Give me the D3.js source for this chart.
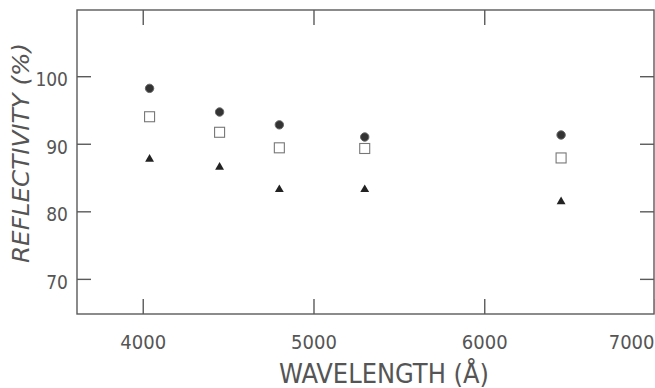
<!DOCTYPE html>
<html>
<head>
<meta charset="utf-8">
<script src="https://cdn.jsdelivr.net/npm/d3@7"></script>
<style>
  html, body { margin: 0; padding: 0; background: #fff; }
  svg { display: block; }
  text { font-family: "DejaVu Sans Condensed", "DejaVu Sans", sans-serif; fill: #555; }
</style>
</head>
<body>
<svg id="chart" width="655" height="388"></svg>
<script>
// Wavelength (Å) of each measurement
const wavelengths = [4040, 4450, 4800, 5300, 6450];
// Reflectivity (%) for the three sample series
const circleValues = [98.2, 94.7, 92.8, 91.0, 91.3];
const squareValues = [94.0, 91.7, 89.4, 89.3, 87.9];
const triangleValues = [87.8, 86.6, 83.3, 83.3, 81.5];
const xTicks = [4000, 5000, 6000, 7000];
const yTicks = [70, 80, 90, 100];

const INK = '#5a5a5a';
const svg = d3.select('#chart');

const x = d3.scaleLinear().domain([3615, 7000]).range([77, 655]);
const y = d3.scaleLinear().domain([64.8, 109.8]).range([314, 10]);

// Frame
svg.append('rect')
  .attr('x', x.range()[0]).attr('y', y.range()[1])
  .attr('width', x.range()[1] - x.range()[0] - 1)
  .attr('height', y.range()[0] - y.range()[1])
  .attr('fill', 'none').attr('stroke', INK).attr('stroke-width', 1.4);

// Inward ticks — bottom with labels, top/left/right bare
const axBottom = svg.append('g').attr('transform', `translate(0,${y.range()[0]})`)
  .call(d3.axisBottom(x).tickValues(xTicks).tickSize(-15).tickPadding(21).tickFormat(d3.format('d')));
const axTop = svg.append('g').attr('transform', `translate(0,${y.range()[1]})`)
  .call(d3.axisTop(x).tickValues(xTicks.filter(d => d < 7000)).tickSize(-15).tickFormat(''));
const axLeft = svg.append('g').attr('transform', `translate(${x.range()[0]},0)`)
  .call(d3.axisLeft(y).tickValues(yTicks).tickSize(-14).tickPadding(9));
const axRight = svg.append('g').attr('transform', `translate(${x.range()[1] - 1},0)`)
  .call(d3.axisRight(y).tickValues(yTicks).tickSize(-14).tickFormat(''));

[axBottom, axTop, axLeft, axRight].forEach(g => {
  g.select('.domain').remove();
  g.selectAll('line').attr('stroke', INK).attr('stroke-width', 1.4);
  g.selectAll('text').attr('font-size', 20).attr('fill', '#555')
    .attr('font-family', '"DejaVu Sans Condensed", "DejaVu Sans", sans-serif');
});
axLeft.selectAll('text').attr('font-size', 19).attr('dy', '0.5em');
axBottom.selectAll('text').filter(d => d === 7000).attr('text-anchor', 'end').attr('dx', -1);

// Data marks
const marks = svg.append('g');
marks.selectAll('circle.c').data(wavelengths).join('circle')
  .attr('class', 'c')
  .attr('cx', d => x(d)).attr('cy', (d, i) => y(circleValues[i]))
  .attr('r', 4.2).attr('fill', '#333').attr('stroke', '#666').attr('stroke-width', 1);

marks.selectAll('rect.s').data(wavelengths).join('rect')
  .attr('class', 's')
  .attr('x', d => x(d) - 5).attr('y', (d, i) => y(squareValues[i]) - 5)
  .attr('width', 10).attr('height', 10)
  .attr('fill', '#fff').attr('stroke', '#777').attr('stroke-width', 1.1);

const tri = d3.symbol().type(d3.symbolTriangle).size(34);
marks.selectAll('path.t').data(wavelengths).join('path')
  .attr('class', 't')
  .attr('transform', (d, i) => `translate(${x(d)},${y(triangleValues[i]) + 0.5})`)
  .attr('d', tri).attr('fill', '#222');

// Axis titles
svg.append('text')
  .attr('x', 384).attr('y', 383)
  .attr('text-anchor', 'middle').attr('font-size', 26)
  .attr('textLength', 210).attr('lengthAdjust', 'spacingAndGlyphs')
  .text('WAVELENGTH (Å)');

svg.append('text')
  .attr('transform', 'translate(29,153) rotate(-90)')
  .attr('text-anchor', 'middle').attr('font-size', 23)
  .attr('font-style', 'italic')
  .attr('textLength', 220).attr('lengthAdjust', 'spacingAndGlyphs')
  .text('REFLECTIVITY (%)');
</script>
</body>
</html>
